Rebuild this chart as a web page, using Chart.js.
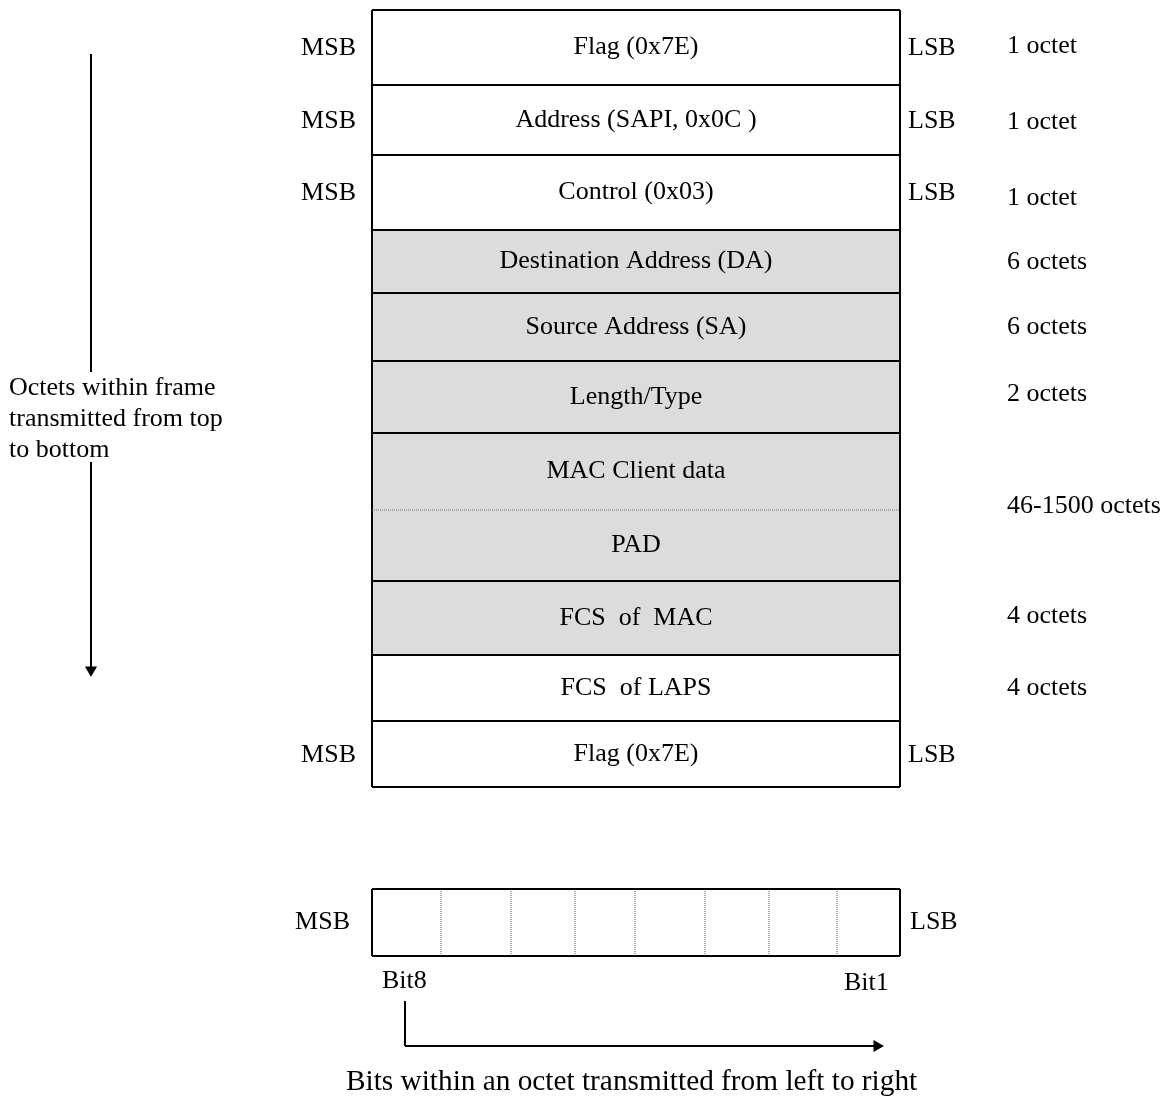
<!DOCTYPE html>
<html><head><meta charset="utf-8">
<script src="https://cdn.jsdelivr.net/npm/chart.js@4.4.1/dist/chart.umd.min.js"></script>
<style>html,body{margin:0;padding:0;background:#fff}canvas{display:block}</style>
</head><body>
<canvas id="c" width="1172" height="1100"></canvas>
<script>
// ---- data ----
const rowNames = ['Flag (0x7E)','Address (SAPI, 0x0C )','Control (0x03)','Destination Address (DA)','Source Address (SA)','Length/Type','MAC Client data','PAD','FCS  of  MAC','FCS  of LAPS','Flag (0x7E)'];
const rowEdges = [10,85,155,230,293,361,433,510,581,655,721,787];
const rowShaded = [false,false,false,true,true,true,true,true,true,false,false];
const dottedEdges = [510];
const msbLsbRows = [0,1,2,10];
const octetLabels = ['1 octet','1 octet','1 octet','6 octets','6 octets','2 octets','46-1500 octets','4 octets','4 octets'];
const octetY = [46,122,198,262,327,394,506,616,688];
const frameX = [372,900];
const bitEdges = [372,441,511,575,635,705,769,837,900];
const bitBox = [889,956];
const bitLabels = ['Bit8','Bit1'];
const sideText = ['Octets within frame','transmitted from top','to bottom'];
const bottomText = 'Bits within an octet transmitted from left to right';

// ---- build datasets ----
const K = '#000';
function seg(p, q, opts) {
  return Object.assign({data:[p,q], showLine:true, pointRadius:0, borderColor:K, borderWidth:2, fill:false, order:0}, opts||{});
}
const ds = [];
// shaded band
const shadedIdx = rowShaded.map((s,i)=>s?i:-1).filter(i=>i>=0);
const shTop = rowEdges[shadedIdx[0]], shBot = rowEdges[shadedIdx[shadedIdx.length-1]+1];
ds.push({data:[{x:frameX[0],y:shTop},{x:frameX[1],y:shTop}], showLine:true, pointRadius:0, borderWidth:0, fill:false, order:10});
ds.push({data:[{x:frameX[0],y:shBot},{x:frameX[1],y:shBot}], showLine:true, pointRadius:0, borderWidth:0, fill:'-1', backgroundColor:'#dcdcdc', order:9});
// horizontal row edges
rowEdges.forEach(y=>{
  const dotted = dottedEdges.includes(y);
  ds.push(seg({x:frameX[0],y},{x:frameX[1],y}, dotted?{borderWidth:1,borderDash:[1,1],borderColor:'#777'}:{}));
});
// frame verticals
frameX.forEach(x=>ds.push(seg({x,y:rowEdges[0]},{x,y:rowEdges[rowEdges.length-1]})));
// bit box
ds.push(seg({x:bitEdges[0],y:bitBox[0]},{x:bitEdges[bitEdges.length-1],y:bitBox[0]}));
ds.push(seg({x:bitEdges[0],y:bitBox[1]},{x:bitEdges[bitEdges.length-1],y:bitBox[1]}));
bitEdges.forEach((x,i)=>{
  const inner = i>0 && i<bitEdges.length-1;
  ds.push(seg({x,y:bitBox[0]},{x,y:bitBox[1]}, inner?{borderWidth:1,borderDash:[1,1],borderColor:'#555'}:{}));
});
// left arrow
ds.push(seg({x:91,y:54},{x:91,y:372}));
ds.push(seg({x:91,y:462},{x:91,y:668}));
ds.push({data:[{x:91,y:670}], showLine:false, pointStyle:'triangle', rotation:180, pointRadius:7, backgroundColor:K, borderColor:K, borderWidth:0, order:0});
// bottom arrow
ds.push(seg({x:405,y:1001},{x:405,y:1046}));
ds.push(seg({x:405,y:1046},{x:874,y:1046}));
ds.push({data:[{x:877,y:1046}], showLine:false, pointStyle:'triangle', rotation:90, pointRadius:7, backgroundColor:K, borderColor:K, borderWidth:0, order:0});

const FONT = '"Liberation Serif","Times New Roman",serif';
const textPlugin = {
  id:'texts',
  afterDatasetsDraw(chart){
    const {ctx, scales:{x:sx, y:sy}} = chart;
    const X = v=>sx.getPixelForValue(v), Y = v=>sy.getPixelForValue(v);
    function t(str, x, y, align, size){
      ctx.save(); ctx.fillStyle='#000'; ctx.font = (size||26)+'px '+FONT;
      ctx.textAlign = align||'center'; ctx.textBaseline='middle';
      ctx.fillText(str, X(x), Y(y)); ctx.restore();
    }
    const cx = (frameX[0]+frameX[1])/2;
    rowNames.forEach((n,i)=>{
      const mid = (rowEdges[i]+rowEdges[i+1])/2;
      t(n, cx, mid);
    });
    msbLsbRows.forEach(i=>{
      const mid = (rowEdges[i]+rowEdges[i+1])/2 + 1;
      t('MSB', frameX[0]-16, mid, 'right');
      t('LSB', frameX[1]+8, mid, 'left');
    });
    octetLabels.forEach((s,i)=>t(s, 1007, octetY[i], 'left'));
    const bm = (bitBox[0]+bitBox[1])/2;
    t('MSB', frameX[0]-22, bm, 'right');
    t('LSB', frameX[1]+10, bm, 'left');
    t(bitLabels[0], 382, 981, 'left');
    t(bitLabels[1], 844, 983, 'left');
    sideText.forEach((s,i)=>t(s, 9, 388+i*31, 'left'));
    t(bottomText, 346, 1082, 'left', 29.3);
  }
};

new Chart(document.getElementById('c'), {
  type:'scatter',
  data:{datasets:ds},
  options:{
    responsive:false, animation:false, devicePixelRatio:1,
    layout:{padding:0, autoPadding:false},
    plugins:{legend:{display:false}, tooltip:{enabled:false}},
    events:[],
    scales:{
      x:{type:'linear', min:0, max:1172, display:false},
      y:{type:'linear', min:0, max:1100, reverse:true, display:false}
    }
  },
  plugins:[textPlugin]
});
</script>
</body></html>
